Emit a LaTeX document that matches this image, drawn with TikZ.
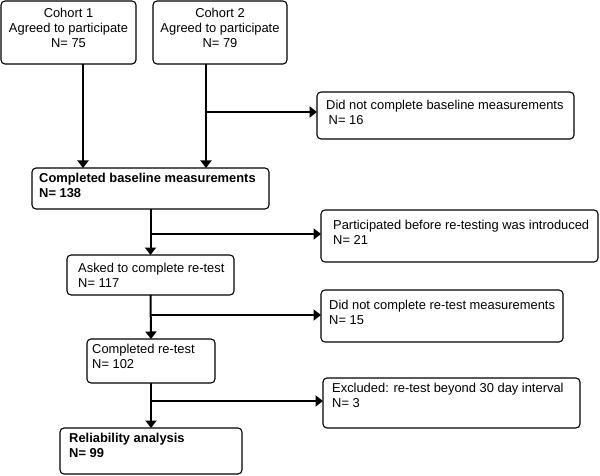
\documentclass[tikz,border=0pt]{standalone}
\usepackage{fontspec}
\setmainfont{Liberation Sans}
\usetikzlibrary{arrows.meta,calc}
\newcommand{\fsz}{\fontsize{12.9pt}{15pt}\selectfont}
\begin{document}
\begin{tikzpicture}[x=1pt,y=-1pt,
  box/.style={draw, rounded corners=4pt, line width=1.1pt, anchor=north west, inner sep=0pt, outer sep=0pt},
  flow/.style={line width=2pt, -{Triangle[width=11pt,length=7.5pt]}},
  txt/.style={anchor=base west, align=left, inner sep=0pt, font=\fsz},
  ctxt/.style={anchor=base, align=center, inner sep=0pt, font=\fsz}]
\useasboundingbox (0,0) rectangle (600,476);
% boxes
\node[box, minimum width=135pt, minimum height=63pt] (c1) at (1,1) {};
\node[box, minimum width=134pt, minimum height=63pt] (c2) at (153,1) {};
\node[box, minimum width=237pt, minimum height=41pt] (base) at (32,168) {};
\node[box, minimum width=257pt, minimum height=47pt] (dnb) at (317,92) {};
\node[box, minimum width=277pt, minimum height=52pt] (part) at (321,210) {};
\node[box, minimum width=167pt, minimum height=40pt] (asked) at (67,255) {};
\node[box, minimum width=242pt, minimum height=52pt] (dnr) at (321,290) {};
\node[box, minimum width=128pt, minimum height=44pt] (comp) at (87,339) {};
\node[box, minimum width=257pt, minimum height=50pt] (excl) at (323,378) {};
\node[box, minimum width=182pt, minimum height=46pt] (rel) at (60,428) {};
% texts (anchor = baseline of the last line)
\node[ctxt] (t1) at (68.5,47.6) {Cohort 1\\Agreed to participate\\N= 75};
\node[ctxt] (t2) at (220,47.6) {Cohort 2\\Agreed to participate\\N= 79};
\node[txt] (tb) at (39,197.6) {\bfseries Completed baseline measurements\\\bfseries N= 138};
\node[txt] (tdnb) at (326,124.6) {Did not complete baseline measurements\\\hspace{2.5pt}N= 16};
\node[txt] (tp) at (333,244.6) {Participated before re-testing was introduced\\N= 21};
\node[txt] (ta) at (78,287.6) {Asked to complete re-test\\N= 117};
\node[txt] (tdnr) at (329,324.6) {Did not complete re-test measurements\\N= 15};
\node[txt] (tc) at (92,368.6) {Completed re-test\\N= 102};
\node[txt] (te) at (332,407.6) {Excluded: re-test beyond 30 day interval\\N= 3};
\node[txt] (tr) at (69,457.6) {\bfseries Reliability analysis\\\bfseries N= 99};
% connectors
\draw[flow] ([xshift=14.5pt]c1.south) -- ([xshift=14.5pt]c1.south |- base.north);
\draw[flow] ([xshift=-14pt]c2.south) -- ([xshift=-14pt]c2.south |- base.north);
\coordinate (j1) at (206,112);
\draw[flow] (j1) -- (j1 -| dnb.west);
\draw[flow] (base.south) -- (asked.north);
\coordinate (j2) at (151,234);
\draw[flow] (j2) -- (j2 -| part.west);
\draw[flow] (asked.south) -- (comp.north);
\coordinate (j3) at (151,315);
\draw[flow] (j3) -- (j3 -| dnr.west);
\draw[flow] (comp.south) -- (rel.north);
\coordinate (j4) at (151,401);
\draw[flow] (j4) -- (j4 -| excl.west);
\end{tikzpicture}
\end{document}
